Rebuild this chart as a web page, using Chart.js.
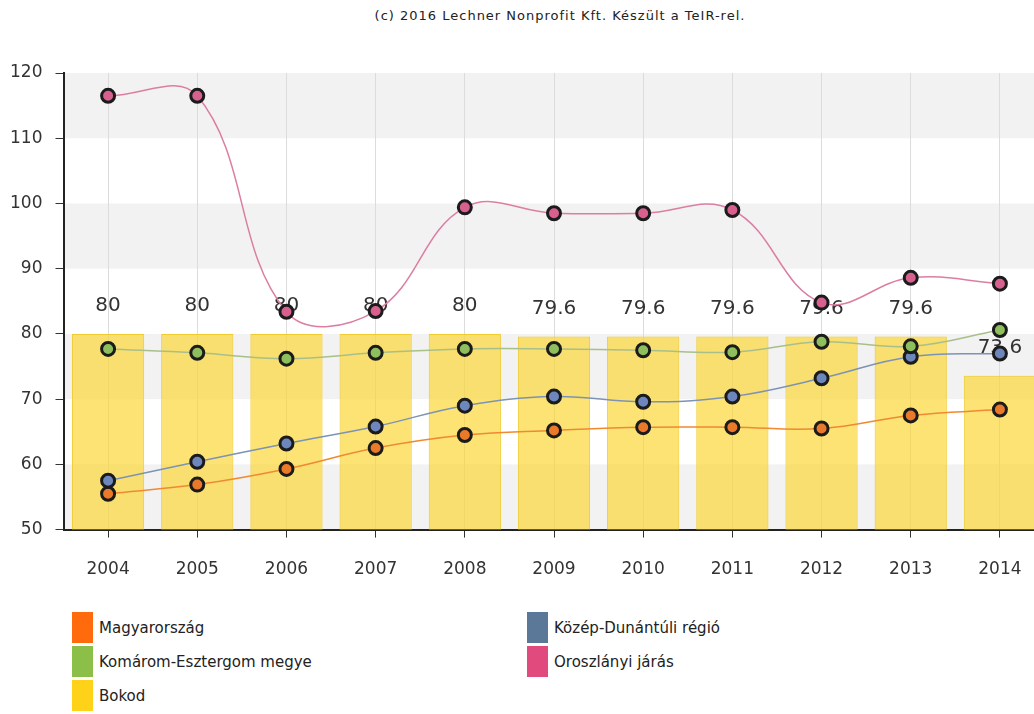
<!DOCTYPE html>
<html lang="hu">
<head>
  <meta charset="UTF-8">
  <title>Bokod</title>
  <style>
    body { margin: 0; width: 1034px; height: 714px; overflow: hidden; background: #fff; font-family: "DejaVu Sans", Verdana, sans-serif; position: relative; }
    #title { position: absolute; top: 8px; left: 0; width: 1120px; text-align: center; font-size: 13px; color: #222; letter-spacing: 1px; }
    #myChart { position: absolute; top: 0; left: 0; }
    #legend { position: absolute; top: 612px; left: 72px; width: 900px; }
    .item { position: absolute; height: 31px; display: flex; align-items: center; font-size: 15px; color: #222; }
    .item span.sw { width: 21px; height: 31px; margin-right: 6px; display: inline-block; }
  </style>
</head>
<body>
  <div id="title">(c) 2016 Lechner Nonprofit Kft. Készült a TeIR-rel.</div>
  <canvas id="myChart" width="1054" height="602"></canvas>
  <div id="legend"></div>
  <script src="https://cdn.jsdelivr.net/npm/chart.js"></script>
  <script>
    const years = ['2004', '2005', '2006', '2007', '2008', '2009', '2010', '2011', '2012', '2013', '2014']
    const magyarorszag = [55.5, 56.9, 59.3, 62.5, 64.5, 65.2, 65.7, 65.7, 65.5, 67.5, 68.4]
    const kozepDunantul = [57.5, 60.4, 63.2, 65.8, 69.0, 70.4, 69.6, 70.4, 73.2, 76.5, 77.0]
    const komarom = [77.7, 77.1, 76.2, 77.1, 77.7, 77.7, 77.5, 77.2, 78.8, 78.1, 80.6]
    const oroszlany = [116.5, 116.5, 83.4, 83.5, 99.4, 98.5, 98.5, 99.0, 84.8, 88.6, 87.7]
    const bokod = [80, 80, 80, 80, 80, 79.6, 79.6, 79.6, 79.6, 79.6, 73.6]
    const yTicks = [50, 60, 70, 80, 90, 100, 110, 120]

    // legend: name, swatch colour, column, row
    const legendItems = [
      ['Magyarország', '#ff6a0d', 0, 0],
      ['Közép-Dunántúli régió', '#5b7899', 1, 0],
      ['Komárom-Esztergom megye', '#8cbf48', 0, 1],
      ['Oroszlányi járás', '#e14a7c', 1, 1],
      ['Bokod', '#ffd21a', 0, 2]
    ]

    const legend = document.getElementById('legend')
    legendItems.forEach(([name, color, col, row]) => {
      const el = document.createElement('div')
      el.className = 'item'
      el.style.left = (col * 455) + 'px'
      el.style.top = (row * 34) + 'px'
      el.innerHTML = `<span class="sw" style="background:${color}"></span>${name}`
      legend.appendChild(el)
    })

    // grey bands behind every second 10-unit step
    const bands = {
      id: 'bands',
      beforeDraw(chart) {
        const { ctx, chartArea, scales: { y } } = chart
        ctx.save()
        ctx.fillStyle = '#f2f2f2'
        for (let i = 0; i < yTicks.length - 1; i += 2) {
          const top = y.getPixelForValue(yTicks[i + 1])
          const bottom = y.getPixelForValue(yTicks[i])
          ctx.fillRect(chartArea.left, top, chartArea.right - chartArea.left, bottom - top)
        }
        ctx.restore()
      }
    }

    // value labels above the Bokod bars
    const barLabels = {
      id: 'barLabels',
      afterDatasetDraw(chart, args) {
        if (chart.data.datasets[args.index].type !== 'bar') return
        const { ctx } = chart
        ctx.save()
        ctx.font = '20px "DejaVu Sans"'
        ctx.fillStyle = '#333'
        ctx.textAlign = 'center'
        ctx.textBaseline = 'middle'
        args.meta.data.forEach((bar, i) => {
          ctx.fillText(String(bokod[i]), bar.x, bar.y - 28)
        })
        ctx.restore()
      }
    }

    const line = (label, data, lineColor, pointColor) => ({
      type: 'line',
      label,
      data,
      borderColor: lineColor,
      borderWidth: 1.5,
      backgroundColor: pointColor,
      pointBackgroundColor: pointColor,
      pointBorderColor: '#1b1b1b',
      pointBorderWidth: 3,
      pointRadius: 6.5,
      tension: 0.4,
      fill: false
    })

    new Chart(document.getElementById('myChart'), {
      data: {
        labels: years,
        datasets: [
          line('Oroszlányi járás', oroszlany, '#dc7ea2', '#d8608e'),
          line('Komárom-Esztergom megye', komarom, '#a9bf8a', '#8fbf5c'),
          line('Közép-Dunántúli régió', kozepDunantul, '#7d93b4', '#6d86bb'),
          line('Magyarország', magyarorszag, '#f08a32', '#ea7a2a'),
          {
            type: 'bar',
            label: 'Bokod',
            data: bokod,
            backgroundColor: 'rgba(250, 212, 40, 0.65)',
            borderColor: 'rgba(240, 200, 30, 0.9)',
            borderWidth: 1,
            barPercentage: 0.81,
            categoryPercentage: 1
          }
        ]
      },
      options: {
        responsive: false,
        animation: false,
        layout: { padding: { top: 73, right: 0, left: 0, bottom: 0 } },
        plugins: {
          legend: { display: false },
          tooltip: { enabled: false }
        },
        scales: {
          x: {
            offset: true,
            grid: { offset: false, color: '#dcdcdc', tickColor: '#333', tickLength: 8 },
            border: { color: '#222', width: 2 },
            ticks: { color: '#333', font: { family: 'DejaVu Sans', size: 17 }, padding: 22 }
          },
          y: {
            min: 50,
            max: 120,
            afterFit(scale) { scale.width = 63.5 },
            grid: { drawOnChartArea: false, tickColor: '#333', tickLength: 8 },
            border: { color: '#222', width: 2 },
            ticks: { stepSize: 10, color: '#333', font: { family: 'DejaVu Sans', size: 17 }, padding: 13 }
          }
        }
      },
      plugins: [bands, barLabels]
    })
  </script>
</body>
</html>
